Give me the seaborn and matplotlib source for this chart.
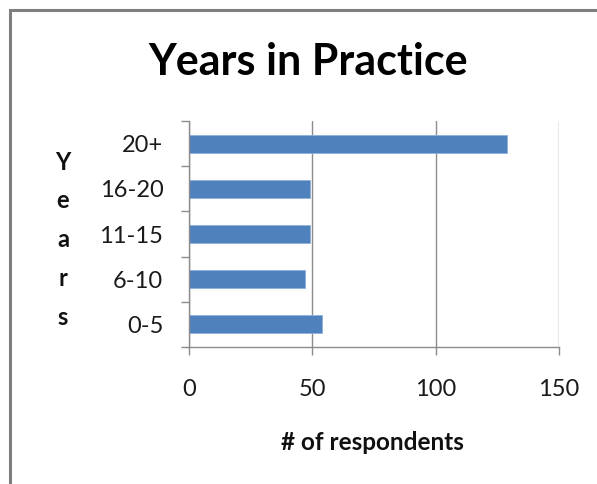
import matplotlib
matplotlib.use("Agg")
import matplotlib.pyplot as plt
from matplotlib.patches import Rectangle
from matplotlib.ticker import FixedLocator, NullFormatter
import seaborn as sns
import pandas as pd

# Survey: years in practice
categories = ["20+", "16-20", "11-15", "6-10", "0-5"]
respondents = [129, 49, 49, 47, 54]
x_ticks = [0, 50, 100, 150]

sns.set_style("white")
plt.rcParams["font.family"] = ["Lato", "DejaVu Sans"]

W, H = 597, 484
fig = plt.figure(figsize=(W / 100, H / 100), dpi=100)
fig.patch.set_facecolor("white")


def fx(px):
    return px / W


def fy(py):
    return (H - py) / H


# plot area in pixel coordinates
left, right, top, bottom = 189, 559, 121, 347
ax = fig.add_axes([fx(left), fy(bottom), (right - left) / W, (bottom - top) / H])

df = pd.DataFrame({"years": categories, "count": respondents})
sns.barplot(data=df, x="count", y="years", order=categories, orient="h",
            color="#4F81BD", saturation=1, width=0.4,
            edgecolor="#8DB0DC", linewidth=0.6, ax=ax)

grid_col = "#8C8C8C"
ax.set_xlim(0, 150)
ax.set_ylim(len(categories) - 0.5, -0.5)
ax.set_xticks(x_ticks)
ax.set_xticklabels([str(t) for t in x_ticks])
ax.xaxis.grid(True, color=grid_col, linewidth=1.0)
ax.yaxis.grid(False)
ax.set_axisbelow(True)

for side in ["top", "right"]:
    ax.spines[side].set_visible(False)
for side in ["left", "bottom"]:
    ax.spines[side].set_color(grid_col)
    ax.spines[side].set_linewidth(1.0)

# tick marks between categories on the y axis
ax.yaxis.set_minor_locator(FixedLocator([i - 0.5 for i in range(len(categories) + 1)]))
ax.yaxis.set_minor_formatter(NullFormatter())
ax.tick_params(axis="y", which="minor", length=5.8, width=1.0, color=grid_col, direction="out", left=True)
ax.tick_params(axis="y", which="major", length=0, pad=18.5, labelsize=17, labelcolor="#1a1a1a")
ax.tick_params(axis="x", which="major", length=5.8, width=1.0, color=grid_col, direction="out",
               pad=17.5, labelsize=17, labelcolor="#1a1a1a", bottom=True)

ax.set_ylabel("")
ax.set_xlabel("# of respondents", fontsize=17.5, fontweight="bold", color="#111111")
ax.xaxis.set_label_coords((372 - left) / (right - left), (bottom - 450) / (bottom - top))
ax.xaxis.label.set_va("baseline")

# vertical axis title, one letter per line
for i, ch in enumerate("Years"):
    fig.text(fx(63), fy(162 + i * 38.8), ch, ha="center", va="center",
             fontsize=17, fontweight="bold", color="#111111")

fig.text(fx(308), fy(75), "Years in Practice", ha="center", va="baseline",
         fontsize=31, fontweight="bold", color="#000000")

# chart frame
fig.patches.append(Rectangle((fx(9.5), -0.1), 1.2, fy(9.5) + 0.1, transform=fig.transFigure,
                             fill=False, edgecolor="#7F7F7F", linewidth=2.2))

fig.savefig("out.png", dpi=100, facecolor="white")
